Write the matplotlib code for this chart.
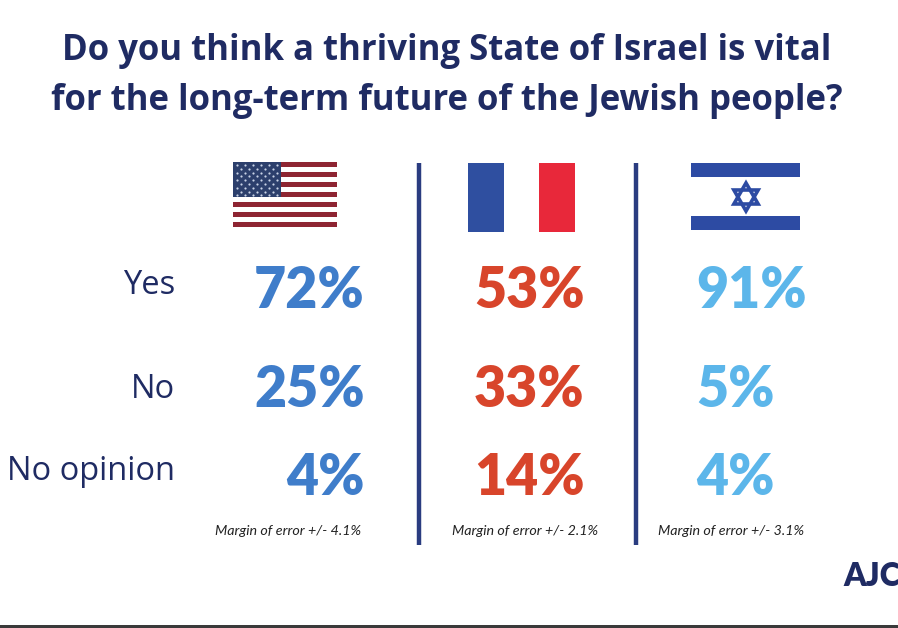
import matplotlib
matplotlib.use("Agg")
import matplotlib.pyplot as plt
from matplotlib.patches import Rectangle, Polygon
import numpy as np

# ---- data ----
title_lines = ["Do you think a thriving State of Israel is vital",
               "for the long-term future of the Jewish people?"]
responses = ["Yes", "No", "No opinion"]
countries = ["United States", "France", "Israel"]
us_values = [72, 25, 4]
france_values = [53, 33, 14]
israel_values = [91, 5, 4]
margins = ["4.1", "2.1", "3.1"]
brand = "AJC"

W, H = 898, 628
fig = plt.figure(figsize=(W / 100, H / 100), dpi=100)
ax = fig.add_axes([0, 0, 1, 1])
ax.set_xlim(0, W)
ax.set_ylim(H, 0)
ax.axis("off")

navy = "#1f2b63"
line_col = "#2a3c80"
col_colors = ["#3f7dca", "#d8452b", "#5cb6ea"]
FONT = "Lato"
WIDE = "Open Sans"

# title
for i, t in enumerate(title_lines):
    ax.text(447, 51 + i * 50, t, ha="center", va="center", fontsize=25,
            fontweight="bold", color=navy, family=WIDE)

# separators
for x in (419, 636):
    ax.plot([x, x], [163, 545], color=line_col, lw=3.2, solid_capstyle="butt")

# US flag
fx0, fy0, fw, fh = 233, 162, 104, 65
sh = fh / 13
for k in range(13):
    c = "#8e2532" if k % 2 == 0 else "white"
    ax.add_patch(Rectangle((fx0, fy0 + k * sh), fw, sh, color=c, lw=0))
ax.add_patch(Rectangle((fx0, fy0), 48, sh * 7, color="#2c3f6c", lw=0))
sx, sy = [], []
for r in range(9):
    n = 6 if r % 2 == 0 else 5
    off = 4 if r % 2 == 0 else 8
    for c in range(n):
        sx.append(fx0 + off + c * 8)
        sy.append(fy0 + 3 + r * 3.8)
ax.scatter(sx, sy, s=2.5, color="#c9d3e6", lw=0, zorder=3)

# French flag
ax.add_patch(Rectangle((468, 163), 36, 69, color="#2f4fa0", lw=0))
ax.add_patch(Rectangle((539, 163), 36, 69, color="#e8283a", lw=0))

# Israeli flag
isr_blue = "#2d4ba3"
ax.add_patch(Rectangle((691, 163), 109, 14, color=isr_blue, lw=0))
ax.add_patch(Rectangle((691, 216), 109, 14, color=isr_blue, lw=0))
cx, cy, rr = 746, 197, 14
for a0 in (90, 270):
    ang = np.deg2rad(np.array([a0, a0 + 120, a0 + 240]))
    pts = np.column_stack([cx + rr * np.cos(ang), cy - rr * np.sin(ang)])
    ax.add_patch(Polygon(pts, closed=True, fill=False, ec=isr_blue, lw=2.6, joinstyle="miter"))

# row labels
row_y = [285, 390, 472]
num_y = [291, 390, 478]
for lab, y in zip(responses, row_y):
    ax.text(175, y, lab, ha="right", va="center", fontsize=23.5, color=navy, family=WIDE)

# values
columns = [(us_values, 365, "right"), (france_values, 474, "left"), (israel_values, 696, "left")]
for (vals, x, ha), col in zip(columns, col_colors):
    for v, y in zip(vals, num_y):
        ax.text(x, y, f"{v}%", ha=ha, va="center", fontsize=40, fontweight="heavy",
                color=col, family=FONT)

# margins of error
for m, x in zip(margins, (288, 525, 731)):
    ax.text(x, 531, f"Margin of error +/- {m}%", ha="center", va="center",
            fontsize=10.3, style="italic", color="#222222", family=FONT)

# brand
ax.text(843, 576, brand, ha="left", va="center", fontsize=23, fontweight="heavy",
        color=navy, family=FONT)

# bottom rule
ax.add_patch(Rectangle((0, 624.5), W, 4, color="#3a3a3a", lw=0))

fig.savefig("out.png", dpi=100)
